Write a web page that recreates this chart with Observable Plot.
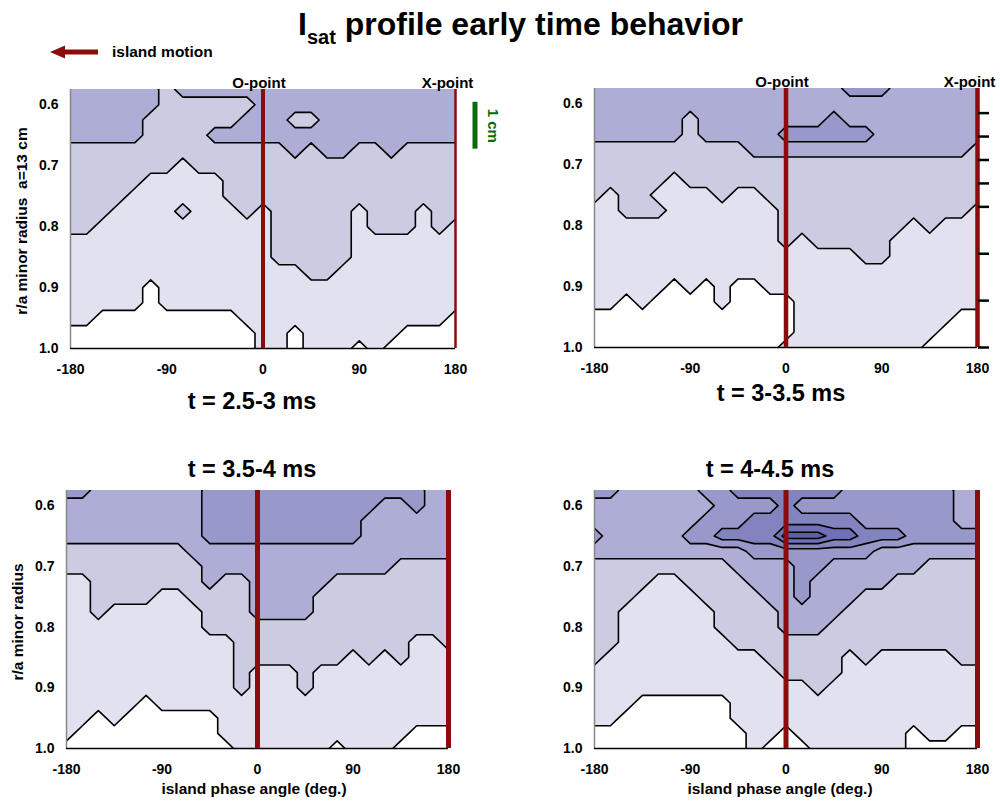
<!DOCTYPE html>
<html><head><meta charset="utf-8">
<script src="https://cdn.jsdelivr.net/npm/d3@7"></script>
<script src="https://cdn.jsdelivr.net/npm/@observablehq/plot@0.6"></script>
<style>
html,body{margin:0;padding:0;background:#fff;}
#fig{position:relative;width:1000px;height:801px;overflow:hidden;font-family:"Liberation Sans",Arial,sans-serif;font-weight:bold;color:#000;}
.t{position:absolute;white-space:pre;line-height:1;}
.c{transform:translate(-50%,-50%);}
.l{transform:translateY(-50%);}
.v{transform:translate(-50%,-50%) rotate(-90deg);}
.p{position:absolute;}
</style></head><body><div id="fig"></div>
<script>
// ---- grid coordinates ----
const phaseAngles = [-180,-165,-150,-135,-120,-105,-90,-75,-60,-45,-30,-15,0,15,30,45,60,75,90,105,120,135,150,165,180];
const radii = [0.575,0.6,0.625,0.65,0.675,0.7,0.725,0.75,0.775,0.8,0.825,0.85,0.875,0.9,0.925,0.95,0.975,1.0];
const xTicks = [-180,-90,0,90,180];
const yTicks = [0.6,0.7,0.8,0.9,1.0];
const levelThresholds = [0.5,1.5,2.5,3.5,4.5,5.5,6.5];
const markerAngles = [0,180];
const markerNames = ["O-point","X-point"];
const minorRadiusCm = 13;
const cmFromEdge = [0,1,2,3,3.5,4,4.5,5];
const scaleBarCm = 1;
const scaleBarTop = 0.596;
const panelTitles = ["t = 2.5-3 ms","t = 3-3.5 ms","t = 3.5-4 ms","t = 4-4.5 ms"];

// ---- Isat contour level per phase angle (each string: r/a = 0.575 ... 1.0) ----
const isat_2p5_3 = [
"333322222211111100","333322222211111100","333322222111111000","333322221111111000",
"333322211111111000","332222111111100000","222222111111111000","322221112111111000",
"322222111111111000","322322111111111000","322322221111111000","323322222111111100",
"333322221111111111","333322222222111111","332332222222111100","332322222222211111",
"333332222222211111","333332222222111111","333322221111111110","333322222211111111",
"333332222211111110","333322222211111100","333322221111111100","333322222211111100",
"333322222111111000"];
const isat_3_3p5 = [
"333322221111111000","333322211111111000","333322222111110000","333322222111111000",
"333322212111110000","333322111111100000","332222211111110000","333322211111100000",
"333322221111111000","333322211111100000","333332211111100000","333332221111110000",
"333432222221110001","333432222211111111","333432222221111111","334432222221111111",
"433432222221111111","433432222222111111","433332222222111111","333332222211111111",
"333332222111111111","333332222211111110","333332222111111100","333332222111111000",
"333322221111111000"];
const isat_3p5_4 = [
"433322111111111110","433322111111111100","333322222111111000","333322221111111100",
"333322221111111000","333322221111110000","333322211111111000","333322211111111000",
"333332221111111000","444433322211111000","444433222211111110","444433222222221111",
"444433333222111111","444433333222111111","444433333222111111","444433333222221111",
"444433322222111111","444433222222111110","444433222221111111","443333222222111111",
"433333222221111111","433332222222111110","443332222211111100","333332222211111100",
"333332222221111100"];
const isat_4_4p5 = [
"433432222222111100","433332222221111100","333332221111111000","333332211111110000",
"333332111111110000","333332111111110000","333432211111110000","434432221111110000",
"444532222211110000","544533222221111100","545543322221111111","545543332222111110",
"555743333322211100","545744443322211110","545744333322221111","545643333222211111",
"445643332221111111","444543322222111111","444533322221111111","444533222221111111",
"444433222221111100","444432222221111110","444432222221111110","333432222222111100",
"333432222222111100"];

// ---- styles / layout ----
const levelColors = ["#e1e1ef","#cbcbe2","#adadd5","#9898ca","#8383c0","#7070b7","#5e5eae"];
const red = "#8a0c0c";
const green = "#0a6a0a";
const font = '"Liberation Sans", Arial, sans-serif';
const panels = [
  {data: isat_2p5_3, left: 0,   top: 59,  mL: 70, mR: 50, fw: 385, fh: 259, oW: 4,   xW: 2.5, labels: true,  bar: true,  right: false},
  {data: isat_3_3p5, left: 524, top: 58,  mL: 70, mR: 23, fw: 383, fh: 259, oW: 4.5, xW: 4.5, labels: true,  bar: false, right: true},
  {data: isat_3p5_4, left: 0,   top: 460, mL: 66, mR: 50, fw: 382, fh: 258, oW: 5,   xW: 5,   labels: false, bar: false, right: false},
  {data: isat_4_4p5, left: 524, top: 460, mL: 70, mR: 23, fw: 383, fh: 258, oW: 5,   xW: 5,   labels: false, bar: false, right: false}
];

const fig = document.getElementById("fig");
const dA = phaseAngles[1] - phaseAngles[0];
const dR = radii[1] - radii[0];

function gridValues(cols) {
  const v = [];
  for (let j = 0; j < radii.length; j++)
    for (let i = 0; i < phaseAngles.length; i++) v.push(+cols[i][j]);
  return v;
}

panels.forEach((p) => {
  const mT = 30, mB = 30;
  const marks = [
    Plot.contour(gridValues(p.data), {
      width: phaseAngles.length, height: radii.length,
      x1: phaseAngles[0] - dA / 2, x2: phaseAngles[phaseAngles.length - 1] + dA / 2,
      y1: radii[0] - dR / 2, y2: radii[radii.length - 1] + dR / 2,
      thresholds: levelThresholds, fill: Plot.identity,
      stroke: "#000", strokeWidth: 1.6, strokeLinejoin: "round", clip: true
    }),
    Plot.ruleX([phaseAngles[0]], {stroke: "#888", strokeWidth: 1.5}),
    Plot.ruleY([radii[radii.length - 1]], {stroke: "#000", strokeWidth: 1.5}),
    Plot.ruleX([markerAngles[0]], {stroke: red, strokeWidth: p.oW}),
    Plot.ruleX([markerAngles[1]], {stroke: red, strokeWidth: p.xW}),
    Plot.axisX({ticks: xTicks, tickSize: 0, tickPadding: 16, tickFormat: d => String(d), label: null, fontSize: 14, fontWeight: "bold"}),
    Plot.axisY({ticks: yTicks, tickSize: 0, tickPadding: 12, tickFormat: d => d.toFixed(1), label: null, fontSize: 14, fontWeight: "bold"})
  ];
  if (p.labels) {
    marks.push(Plot.text([markerAngles[0]], {x: d => d, text: () => markerNames[0], frameAnchor: "top", dy: -12, dx: -4, fontSize: 15, fontWeight: "bold"}));
    marks.push(Plot.text([markerAngles[1]], {x: d => d, text: () => markerNames[1], frameAnchor: "top", dy: -12, dx: -8, fontSize: 15, fontWeight: "bold"}));
  }
  if (p.right) {
    marks.push(Plot.axisY({anchor: "right", ticks: cmFromEdge.map(c => 1 - c / minorRadiusCm), tickSize: 11, tickPadding: 0, tickFormat: () => "", label: null, strokeWidth: 2.5}));
  }
  if (p.bar) {
    marks.push(Plot.ruleX([scaleBarCm], {x: () => markerAngles[1], y1: () => scaleBarTop, y2: d => scaleBarTop + d / minorRadiusCm, dx: 19.5, stroke: green, strokeWidth: 5}));
    marks.push(Plot.text([scaleBarCm], {x: () => markerAngles[1], y: d => scaleBarTop + d / minorRadiusCm / 2, text: d => `${d} cm`, rotate: 90, dx: 37, fill: green, fontSize: 15, fontWeight: "bold"}));
  }
  const svg = Plot.plot({
    width: p.mL + p.fw + p.mR, height: mT + p.fh + mB,
    marginLeft: p.mL, marginRight: p.mR, marginTop: mT, marginBottom: mB,
    x: {domain: [phaseAngles[0], phaseAngles[phaseAngles.length - 1]]},
    y: {domain: [radii[0], radii[radii.length - 1]], reverse: true},
    color: {type: "threshold", domain: [1,2,3,4,5,6], range: levelColors},
    style: {fontFamily: font, fontSize: "14px", fontWeight: "bold", color: "#000", background: "transparent", overflow: "visible"},
    marks
  });
  svg.classList.add("p");
  svg.style.left = p.left + "px";
  svg.style.top = p.top + "px";
  fig.appendChild(svg);
});

function addText(txt, cls, x, y, size, extra = "") {
  const d = document.createElement("div");
  d.className = "t " + cls;
  d.style.cssText += `left:${x}px;top:${y}px;font-size:${size}px;${extra}`;
  d.innerHTML = txt;
  fig.appendChild(d);
}
addText('I<span style="font-size:20px;position:relative;top:9px">sat</span> profile early time behavior', "l", 298, 24, 32);
addText("island motion", "l", 112, 52, 15.5);
addText(panelTitles[0], "c", 252, 402, 23.5);
addText(panelTitles[1], "c", 781, 394, 23.5);
addText(panelTitles[2], "c", 252, 470, 23.5);
addText(panelTitles[3], "c", 770, 470, 23.5);
addText("island phase angle (deg.)", "c", 254, 789, 15.5);
addText("island phase angle (deg.)", "c", 780, 789, 15.5);
addText("r/a minor radius  a=13 cm", "v", 22, 221, 15.5);
addText("r/a minor radius", "v", 18, 622, 15.5);

// island-motion arrow
const ns = "http://www.w3.org/2000/svg";
const arr = document.createElementNS(ns, "svg");
arr.setAttribute("width", 60); arr.setAttribute("height", 20);
arr.style.cssText = "position:absolute;left:45px;top:42px;";
arr.innerHTML = `<rect x="17" y="7.5" width="36" height="5" fill="${red}"/><polygon points="5,10 20,3.5 20,16.5" fill="${red}"/>`;
fig.appendChild(arr);
</script></body></html>
